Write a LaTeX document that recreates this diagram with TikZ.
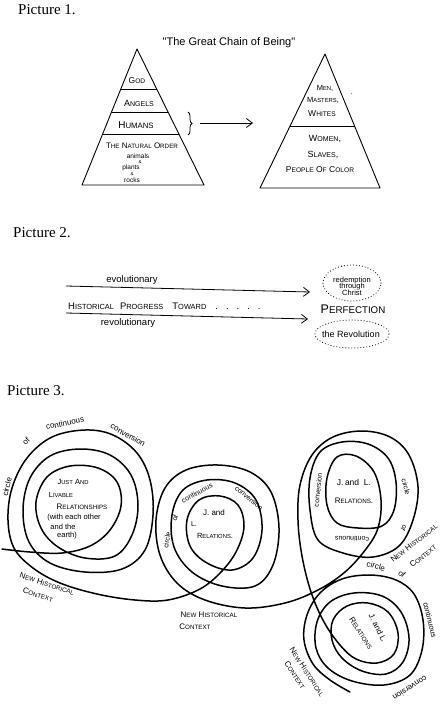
\documentclass[tikz,border=0pt]{standalone}
\usepackage{fontspec}
\setmainfont{Liberation Serif}
\newfontfamily\handfont{Liberation Sans}
\usetikzlibrary{shapes.geometric,decorations.pathreplacing,calc,arrows.meta}
\newcommand\cp[2]{#1\scalebox{0.78}{#2}}
\begin{document}
\begin{tikzpicture}[x=1pt,y=-1pt,
  captxt/.style={font=\fontsize{15}{16}\selectfont, anchor=base west, inner sep=0pt},
  hw/.style={font=\handfont\fontsize{#1}{#1}\selectfont, inner sep=0pt},
  pyr/.style={draw, line width=0.9pt, line join=round},
  arr/.style={-{Straight Barb[length=6pt,width=9pt]}, line width=0.8pt},
  dotline/.style={draw, line width=1.1pt, dash pattern=on 0pt off 3pt, line cap=round},
  spiral/.style={line width=1.5pt, line join=round, line cap=round}]
\fill[white] (0,0) rectangle (441,709);
\useasboundingbox (0,0) rectangle (441,709);

% ---------------- Picture 1
\node[captxt] (p1) at (18,15) {Picture 1.};
\node[hw=11] (title) at (229,43) {"The Great Chain of Being"};

\coordinate (LA) at (137,49); \coordinate (LBL) at (82,185); \coordinate (LBR) at (204,185);
\draw[pyr] (LA) -- (LBL) -- (LBR) -- cycle;
\foreach \t in {0.294,0.463,0.625}
  \draw[pyr] ($(LA)!\t!(LBL)$) -- ($(LA)!\t!(LBR)$);
\node[hw=8.5] (god) at (137,81) {\cp{G}{OD}};
\node[hw=9] (ang) at (139,103) {\cp{A}{NGELS}};
\node[hw=10] (hum) at (136,125) {\cp{H}{UMANS}};
\node[hw=8] (nat) at (142,146) {\cp{T}{HE} \cp{N}{ATURAL} \cp{O}{RDER}};
\node[hw=6.5] (ani) at (138,156) {animals};
\node[hw=4.5] (amp1) at (140,162) {\&};
\node[hw=6.5] (pla) at (131,168) {plants};
\node[hw=4.5] (amp2) at (132,174) {\&};
\node[hw=6.5] (roc) at (132,180) {rocks};

\draw[decorate, decoration={brace, amplitude=4pt}, line width=0.8pt] (188,112) -- (188,135);
\coordinate (bt) at (200,123); \coordinate (ae) at (253,123);
\draw[arr] (bt) -- (ae);

\coordinate (RA) at (325,54); \coordinate (RBL) at (260,188); \coordinate (RBR) at (380,188);
\draw[pyr] (RA) -- (RBL) -- (RBR) -- cycle;
\draw[pyr] ($(RA)!0.537!(RBL)$) -- ($(RA)!0.537!(RBR)$);
\node[hw=7.5] (men) at (325,88) {\cp{M}{EN},};
\node[hw=7.5] (mas) at (323,100) {\cp{M}{ASTERS},};
\node[hw=6] (mk) at (352,95) {'};
\node[hw=8.5] (whi) at (322,114) {\cp{W}{HITES}};
\node[hw=9] (wom) at (325,139) {\cp{W}{OMEN},};
\node[hw=9] (sla) at (323,155) {\cp{S}{LAVES},};
\node[hw=8.5] (poc) at (320,170) {\cp{P}{EOPLE} \cp{O}{F} \cp{C}{OLOR}};

% ---------------- Picture 2
\node[captxt] (p2) at (13,237) {Picture 2.};
\coordinate (a1s) at (66,286); \coordinate (a1e) at (310,292);
\draw[arr] (a1s) -- (a1e);
\node[hw=9.5] (evo) at (132,280) {evolutionary};
\node[hw=9.5, anchor=west] (hpt) at (68,306) {\cp{H}{ISTORICAL}\hspace{6pt}\cp{P}{ROGRESS}\hspace{9pt}\cp{T}{OWARD}\hspace{9pt}.\hspace{8pt}.\hspace{8pt}.\hspace{8pt}.\hspace{8pt}.};
\coordinate (a2s) at (66,313); \coordinate (a2e) at (308,319);
\draw[arr] (a2s) -- (a2e);
\node[hw=9.5] (rev) at (128,323) {revolutionary};

\node[ellipse, dotline, minimum width=58pt, minimum height=36pt, inner sep=0pt] (rce) at (352,283) {};
\node[hw=7.5, align=center] (rc) at (352,286) {redemption\\[-1pt] through\\[-1pt] Christ};
\node[hw=12.5] (perf) at (353,309) {\cp{P}{ERFECTION}};
\node[ellipse, dotline, minimum width=74pt, minimum height=28pt, inner sep=0pt] (rve) at (352,334) {};
\node[hw=9] (rv) at (351,334) {the Revolution};

% ---------------- Picture 3
\node[captxt] (p3) at (7,395) {Picture 3.};

\draw[spiral] plot[smooth, tension=0.6] coordinates {
 (2,549) (30,552) (62,553) (90,546) (110,530) (121,506) (117,482) (98,468) (70,466) (47,477) (36,502) (41,528) (58,547) (85,558) (115,556) (132,535) (138,505) (131,475) (110,455) (80,449) (50,456) (30,478) (23,510) (29,542) (50,563) (85,572) (122,569) (145,550) (153,515) (150,480) (137,453) (113,435) (85,430) (52,437) (27,458) (12,488) (8,520) (14,548) (33,568) (60,583) (97,594) (135,600) (168,600) (200,589)
 (222,571) (237,550) (244,526) (238,505) (220,496) (199,500) (187,520) (190,546) (207,563) (232,570) (253,558) (262,530) (256,500) (235,483) (207,480) (183,490) (172,515) (174,547) (192,572) (222,586) (255,586) (273,565) (279,528) (271,492) (250,472) (218,465) (186,470) (165,488) (156,520) (160,555) (177,583) (205,600) (245,608) (285,603) (318,590) (345,572) (366,549)
 (378,528) (381,500) (374,472) (356,456) (337,457) (327,478) (327,505) (337,523) (358,528) (382,526) (394,510) (396,482) (388,458) (368,444) (342,442) (320,452) (310,478) (310,510) (318,540) (343,553) (373,557) (399,546) (413,520) (418,487) (409,455) (390,437) (362,431) (333,437) (312,455) (300,485) (298,520) (302,556) (311,592) (324,622) (340,645)
 (356,659) (377,663) (394,654) (398,633) (388,612) (368,603) (347,606) (333,620) (332,640) (342,658) (362,671) (386,674) (403,662) (409,638) (401,612) (382,596) (354,593) (330,602) (317,622) (316,648) (328,668) (352,681) (384,685) (410,675) (422,650) (423,620) (414,594) (396,580) (370,575) (342,579) (320,593) (307,615) (304,640) (313,664) (330,680) (350,692)};

% spiral 1 labels
\node[hw=8, rotate=76] (c1a) at (7,487) {circle};
\node[hw=8, rotate=45] (c1b) at (26,441) {of};
\node[hw=8, rotate=12] (c1c) at (65,423) {continuous};
\node[hw=8, rotate=-30] (c1d) at (128,435) {conversion};
\node[hw=7.5] (j1a) at (73,482) {\cp{J}{UST} \cp{A}{ND}};
\node[hw=7.5] (j1b) at (61,495) {\cp{L}{IVABLE}};
\node[hw=8] (j1c) at (82,507) {\cp{R}{ELATIONSHIPS}};
\node[hw=7.5] (j1d) at (74,518) {(with each other};
\node[hw=7.5] (j1e) at (63,527) {and the};
\node[hw=7.5] (j1f) at (67,536) {earth)};
\node[hw=8, rotate=-18] (n1a) at (47,584) {\cp{N}{EW} \cp{H}{ISTORICAL}};
\node[hw=8, rotate=-18] (n1b) at (38,595) {\cp{C}{ONTEXT}};

% spiral 2 labels
\node[hw=7, rotate=80] (c2a) at (167,540) {circle};
\node[hw=7, rotate=65] (c2b) at (175,518) {of};
\node[hw=7, rotate=28] (c2c) at (197,493) {continuous};
\node[hw=7, rotate=-40] (c2d) at (249,498) {conversion};
\node[hw=8] (j2a) at (214,513) {J. and};
\node[hw=7] (j2b) at (194,524) {L.};
\node[hw=7.5] (j2c) at (215,536) {\cp{R}{ELATIONS}.};
\node[hw=8] (n2a) at (209,615) {\cp{N}{EW} \cp{H}{ISTORICAL}};
\node[hw=8] (n2b) at (195,627) {\cp{C}{ONTEXT}};

% spiral 3 labels
\node[hw=7, rotate=84] (c3d) at (318,490) {conversion};
\node[hw=7, rotate=178] (c3c) at (352,539) {continuous};
\node[hw=7, rotate=-120] (c3b) at (404,528) {of};
\node[hw=7, rotate=-75] (c3a) at (406,487) {circle};
\node[hw=8.5] (j3a) at (354,482) {J.\,and \ L.};
\node[hw=8] (j3b) at (354,501) {\cp{R}{ELATIONS}.};
\node[hw=8, rotate=38] (n3a) at (414,543) {\cp{N}{EW} \cp{H}{ISTORICAL}};
\node[hw=8, rotate=38] (n3b) at (423,556) {\cp{C}{ONTEXT}};

% spiral 4 labels
\node[hw=8, rotate=-15] (c4a) at (376,566) {circle};
\node[hw=8, rotate=-38] (c4b) at (402,574) {of};
\node[hw=7.5, rotate=-76] (c4c) at (430,620) {continuous};
\node[hw=8, rotate=-148] (c4d) at (410,688) {conversion};
\node[hw=8, rotate=-63] (j4a) at (378,628) {J. and L.};
\node[hw=8, rotate=-57] (j4b) at (361,633) {\cp{R}{ELATIONS}};
\node[hw=8, rotate=-57] (n4a) at (307,672) {\cp{N}{EW} \cp{H}{ISTORICAL}};
\node[hw=8, rotate=-57] (n4b) at (295,675) {\cp{C}{ONTEXT}};
\end{tikzpicture}
\end{document}
